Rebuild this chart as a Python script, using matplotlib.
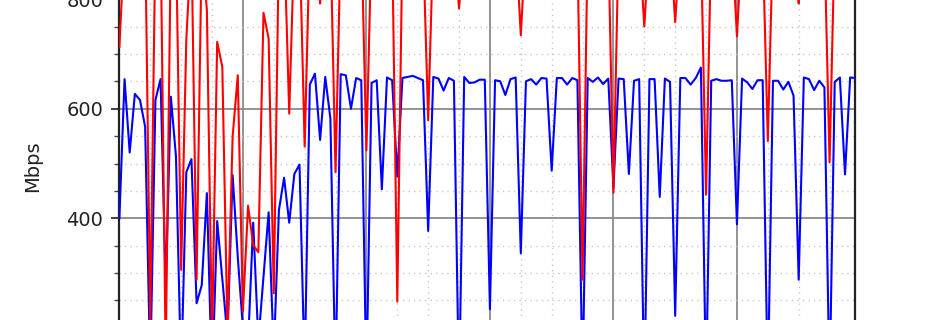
import matplotlib
matplotlib.use("Agg")
import matplotlib.pyplot as plt
from matplotlib.ticker import MultipleLocator, FixedLocator
import numpy as np

# hourly samples
hours = list(range(144))

upload_mbps = [
    400, 654, 520, 627, 616, 567, 120, 616, 654, 273, 622, 512,
    110, 484, 508, 245, 278, 446, 100, 395, 290, 183, 479, 330,
    200, 170, 392, 176, 293, 411, 150, 415, 474, 392, 481, 498,
    120, 644, 664, 543, 658, 582, 100, 663, 661, 600, 656, 652,
    100, 647, 652, 453, 657, 652, 476, 656, 658, 660, 656, 652,
    377, 658, 655, 633, 656, 651, 80, 658, 647, 648, 653, 653,
    234, 652, 650, 625, 654, 657, 336, 650, 654, 644, 656, 655,
    487, 656, 656, 644, 656, 652, 100, 656, 649, 657, 645, 655,
    455, 655, 654, 481, 651, 654, 80, 654, 654, 439, 655, 649,
    222, 656, 656, 644, 656, 675, 90, 651, 654, 651, 651, 652,
    389, 655, 648, 636, 652, 652, 90, 651, 651, 635, 649, 624,
    288, 657, 654, 634, 651, 639, 90, 649, 657, 480, 657, 656,
]

download_mbps = [
    713, 905, 920, 900, 915, 930, 215, 910, 925, 150, 905, 915,
    306, 725, 910, 288, 900, 780, 180, 722, 676, 190, 549, 661,
    230, 423, 351, 338, 775, 728, 263, 905, 920, 591, 910, 915,
    531, 905, 920, 792, 910, 915, 484, 905, 920, 910, 915, 925,
    524, 910, 920, 905, 915, 910, 248, 905, 920, 910, 915, 905,
    579, 910, 920, 905, 915, 910, 783, 905, 915, 920, 910, 905,
    900, 915, 910, 905, 920, 910, 734, 905, 915, 910, 920, 905,
    910, 915, 905, 920, 910, 905, 288, 910, 915, 905, 920, 910,
    447, 905, 915, 910, 920, 905, 750, 910, 915, 905, 920, 910,
    758, 905, 915, 910, 920, 905, 443, 910, 915, 905, 920, 910,
    732, 905, 915, 910, 920, 905, 541, 910, 915, 905, 920, 910,
    792, 905, 915, 910, 920, 905, 502, 910, 915, 905, 920, 910,
]

y_major = [400, 600, 800]

fig = plt.figure(figsize=(9.5, 3.2), dpi=100)
ax = fig.add_axes([119.4 / 950, -0.2, (855.3 - 119.4) / 950, 1.4])

ax.plot(hours, upload_mbps, color="blue", lw=1.5, zorder=3)
ax.plot(hours, download_mbps, color="red", lw=1.5, zorder=4)

ax.set_xlim(0, 143)
ax.set_ylim(97.6, 915.2)

ax.xaxis.set_major_locator(MultipleLocator(24))
ax.xaxis.set_minor_locator(MultipleLocator(6))
ax.yaxis.set_major_locator(FixedLocator(y_major))
ax.yaxis.set_minor_locator(MultipleLocator(50))

ax.grid(which="major", color="#8a8a8a", lw=1.3, ls="-", zorder=1)
ax.grid(which="minor", color="#c8c8c8", lw=1.0, ls=(0, (1, 3)), zorder=1)
ax.set_axisbelow(True)

for s in ["top", "bottom"]:
    ax.spines[s].set_visible(False)
for s in ["left", "right"]:
    ax.spines[s].set_color("#222222")
    ax.spines[s].set_linewidth(1.6)

ax.tick_params(axis="y", which="major", length=6, width=1.2, pad=5.5,
               labelsize=14, colors="#222222", right=False)
ax.tick_params(axis="y", which="minor", length=3.5, width=1.0,
               colors="#444444", right=False)
ax.tick_params(axis="x", which="both", bottom=False, labelbottom=False)

ax.set_ylabel("Mbps", fontsize=14, color="#222222")
ax.yaxis.set_label_coords(-0.105, 0.4866)

fig.savefig("out.png", dpi=100)
